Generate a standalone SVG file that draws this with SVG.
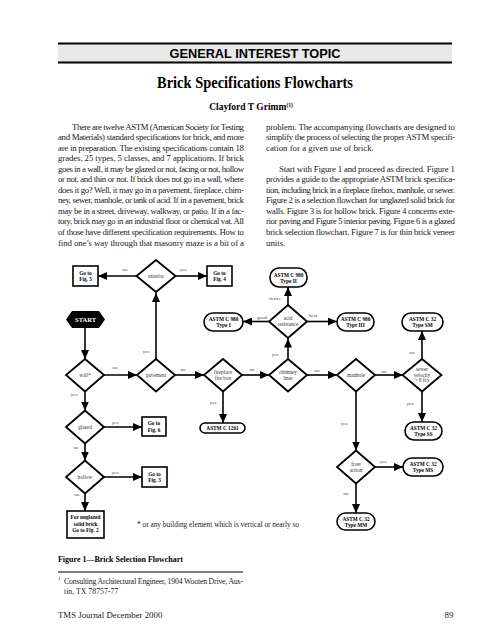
<svg xmlns="http://www.w3.org/2000/svg" width="495" height="640" viewBox="0 0 495 640">
<style>
.body{font-family:"Liberation Serif","Times New Roman",serif;font-size:8.8px;fill:#222}
.d{fill:#fff;stroke:#000;stroke-width:1.8}
.b{fill:#fff;stroke:#000;stroke-width:1.6}
.dt{font-family:"Liberation Serif",serif;font-size:5.2px;fill:#333;text-anchor:middle}
.bt{font-family:"Liberation Serif",serif;font-size:5.3px;font-weight:bold;fill:#000;text-anchor:middle}
.el{font-family:"Liberation Serif",serif;font-size:5px;fill:#444;text-anchor:middle}
.c line{stroke:#000;stroke-width:1.6;marker-end:url(#ah)}
</style>
<defs>
<marker id="ah" markerUnits="userSpaceOnUse" markerWidth="10" markerHeight="8" refX="9" refY="4" orient="auto">
<path d="M0,0 L9,4 L0,8 Z" fill="#000"/>
</marker>
</defs>
<rect width="495" height="640" fill="#fff"/>
<g id="header">
<rect x="58" y="43" width="394" height="20" fill="#e8e8e8"/>
<line x1="58" y1="43.5" x2="452" y2="43.5" stroke="#000" stroke-width="1.8"/>
<line x1="58" y1="62.5" x2="452" y2="62.5" stroke="#000" stroke-width="1.8"/>
<text x="255" y="57.5" text-anchor="middle" font-family="Liberation Sans, Arial, sans-serif" font-weight="bold" font-size="12.8" textLength="171" lengthAdjust="spacingAndGlyphs">GENERAL  INTEREST TOPIC</text>
<text x="255" y="88" text-anchor="middle" font-family="Liberation Serif, serif" font-weight="bold" font-size="16" textLength="196" lengthAdjust="spacingAndGlyphs">Brick Specifications Flowcharts</text>
<text x="251" y="110" text-anchor="middle" font-family="Liberation Serif, serif" font-weight="bold" font-size="9.5">Clayford T Grimm<tspan font-size="5.5" dy="-3.5">(1)</tspan></text>
</g>
<g id="body-left" class="body">
<text x="72" y="129.5" textLength="172" lengthAdjust="spacing">There are twelve ASTM (American Society for Testing</text>
<text x="58" y="140" textLength="186" lengthAdjust="spacing">and Materials) standard specifications for brick, and more</text>
<text x="58" y="150.6" textLength="186" lengthAdjust="spacing">are in preparation.  The existing specifications contain 18</text>
<text x="58" y="161.1" textLength="186" lengthAdjust="spacing">grades, 25 types, 5 classes, and 7 applications.  If brick</text>
<text x="58" y="171.7" textLength="186" lengthAdjust="spacing">goes in a wall, it may be glazed or not, facing or not, hollow</text>
<text x="58" y="182.2" textLength="186" lengthAdjust="spacing">or not, and thin or not. If brick does not go in a wall, where</text>
<text x="58" y="192.8" textLength="186" lengthAdjust="spacing">does it go?  Well, it may go in a pavement, fireplace, chim-</text>
<text x="58" y="203.3" textLength="186" lengthAdjust="spacing">ney, sewer, manhole, or tank of acid. If in a pavement, brick</text>
<text x="58" y="213.9" textLength="186" lengthAdjust="spacing">may be in a street, driveway, walkway, or patio. If in a fac-</text>
<text x="58" y="224.4" textLength="186" lengthAdjust="spacing">tory, brick may go in an industrial floor or chemical vat. All</text>
<text x="58" y="235" textLength="186" lengthAdjust="spacing">of those have different specification requirements.  How to</text>
<text x="58" y="245.5" textLength="186" lengthAdjust="spacing">find one’s way through that masonry maze is a bit of a</text>
</g>
<g id="body-right" class="body">
<text x="266" y="129.5" textLength="189" lengthAdjust="spacing">problem.  The accompanying flowcharts are designed to</text>
<text x="266" y="140" textLength="189" lengthAdjust="spacing">simplify the process of selecting the proper ASTM specifi-</text>
<text x="266" y="150.6">cation for a given use of brick.</text>
<text x="279" y="171.7" textLength="176" lengthAdjust="spacing">Start with Figure 1 and proceed as directed.  Figure 1</text>
<text x="266" y="182.2" textLength="189" lengthAdjust="spacing">provides a guide to the appropriate ASTM brick specifica-</text>
<text x="266" y="192.8" textLength="189" lengthAdjust="spacing">tion, including brick in a fireplace firebox, manhole, or sewer.</text>
<text x="266" y="203.3" textLength="189" lengthAdjust="spacing">Figure 2 is a selection flowchart for unglazed solid brick for</text>
<text x="266" y="213.9" textLength="189" lengthAdjust="spacing">walls.  Figure 3 is for hollow brick.  Figure 4 concerns exte-</text>
<text x="266" y="224.4" textLength="189" lengthAdjust="spacing">rior paving and Figure 5 interior paving.  Figure 6 is a glazed</text>
<text x="266" y="235" textLength="189" lengthAdjust="spacing">brick selection flowchart.  Figure 7 is for thin brick veneer</text>
<text x="266" y="245.5">units.</text>
</g>
<g id="connectors" class="c">
<line x1="137" y1="276" x2="98" y2="276"/>
<line x1="175" y1="276" x2="207" y2="276"/>
<line x1="156" y1="359" x2="156" y2="293"/>
<line x1="85" y1="328" x2="85" y2="359"/>
<line x1="269" y1="321.5" x2="243" y2="321.5"/>
<line x1="288" y1="305" x2="288" y2="287"/>
<line x1="307" y1="321.5" x2="337" y2="321.5"/>
<line x1="288" y1="358.5" x2="288" y2="338.5"/>
<line x1="104" y1="375" x2="137" y2="375"/>
<line x1="175" y1="375" x2="204" y2="375"/>
<line x1="242" y1="375" x2="269" y2="375"/>
<line x1="307" y1="375" x2="337" y2="375"/>
<line x1="375" y1="375" x2="403" y2="375"/>
<line x1="422" y1="358.5" x2="422" y2="331"/>
<line x1="422" y1="391.5" x2="422" y2="422"/>
<line x1="223" y1="391.5" x2="223" y2="423"/>
<line x1="356" y1="391.5" x2="356" y2="450.5"/>
<line x1="375" y1="467" x2="403" y2="467"/>
<line x1="356" y1="483.5" x2="356" y2="513"/>
<line x1="85" y1="391.5" x2="85" y2="410.5"/>
<line x1="104" y1="427" x2="142" y2="427"/>
<line x1="85" y1="443.5" x2="85" y2="460.5"/>
<line x1="104" y1="477" x2="142" y2="477"/>
<line x1="85" y1="493.5" x2="85" y2="511"/>
</g>
<g id="edge-labels">
<text class="el" x="125" y="271">no</text>
<text class="el" x="183" y="271">yes</text>
<text class="el" x="146" y="353">yes</text>
<text class="el" x="275" y="300">better</text>
<text class="el" x="262" y="319">good</text>
<text class="el" x="313" y="317">best</text>
<text class="el" x="275" y="356">yes</text>
<text class="el" x="412" y="354">no</text>
<text class="el" x="115" y="369">no</text>
<text class="el" x="183" y="371">no</text>
<text class="el" x="252" y="371">no</text>
<text class="el" x="317" y="372">no</text>
<text class="el" x="384" y="373">no</text>
<text class="el" x="213" y="404">yes</text>
<text class="el" x="410" y="405">yes</text>
<text class="el" x="344" y="425">yes</text>
<text class="el" x="74" y="396">yes</text>
<text class="el" x="115" y="424">yes</text>
<text class="el" x="76" y="449">no</text>
<text class="el" x="115" y="474">yes</text>
<text class="el" x="77" y="496">no</text>
<text class="el" x="383" y="463">yes</text>
<text class="el" x="346" y="495">no</text>
</g>
<g id="start">
<polygon points="66,319.5 72,311 99,311 105,319.5 99,328 72,328" fill="#000"/>
<text x="85.5" y="321.8" text-anchor="middle" font-family="Liberation Serif, serif" font-weight="bold" font-size="6.5" fill="#fff">START</text>
</g>
<g id="n-exterior"><polygon class="d" points="156,260 175.5,276 156,292 136.5,276"/><text class="dt" x="156" y="278">exterior</text></g>
<g id="n-fig5"><rect class="b" x="73" y="266" width="25" height="20"/><text class="bt" x="85.5" y="274.5">Go to</text><text class="bt" x="85.5" y="281">Fig. 5</text></g>
<g id="n-fig4"><rect class="b" x="207" y="266" width="25" height="20"/><text class="bt" x="219.5" y="274.5">Go to</text><text class="bt" x="219.5" y="281">Fig. 4</text></g>
<g id="n-c980-1"><rect class="b" x="204" y="313" width="39" height="18" rx="9"/><text class="bt" x="223.5" y="321">ASTM C 980</text><text class="bt" x="223.5" y="327">Type I</text></g>
<g id="n-c980-2"><rect class="b" x="270" y="268" width="37" height="19" rx="9"/><text class="bt" x="288.5" y="276.5">ASTM C 980</text><text class="bt" x="288.5" y="282.5">Type II</text></g>
<g id="n-acid"><polygon class="d" points="288,305 307,321.5 288,338 269,321.5"/><text class="dt" x="288" y="320">acid</text><text class="dt" x="288" y="326">resistance</text></g>
<g id="n-c980-3"><rect class="b" x="337" y="313" width="37" height="18" rx="9"/><text class="bt" x="355.5" y="321">ASTM C 980</text><text class="bt" x="355.5" y="327">Typr III</text></g>
<g id="n-sm"><rect class="b" x="402" y="313" width="41" height="18" rx="9"/><text class="bt" x="422.5" y="321">ASTM C 32</text><text class="bt" x="422.5" y="327">Type SM</text></g>
<g id="n-wall"><polygon class="d" points="85,359 104,375 85,391.5 66,375"/><text class="dt" x="85" y="377">wall*</text></g>
<g id="n-pavement"><polygon class="d" points="156,359 175,375 156,391.5 137,375"/><text class="dt" x="156" y="377">pavement</text></g>
<g id="n-fireplace"><polygon class="d" points="223,359 242,375 223,391.5 204,375"/><text class="dt" x="223" y="373.5">fireplace</text><text class="dt" x="223" y="379.5">fire box</text></g>
<g id="n-chimney"><polygon class="d" points="288,359 307,375 288,391.5 269,375"/><text class="dt" x="288" y="373.5">chimney</text><text class="dt" x="288" y="379.5">liner</text></g>
<g id="n-manhole"><polygon class="d" points="356,359 375,375 356,391.5 337,375"/><text class="dt" x="356" y="377">manhole</text></g>
<g id="n-sewer"><polygon class="d" points="422,359 441.5,375 422,391.5 402.5,375"/><text class="dt" x="422" y="371">sewer</text><text class="dt" x="422" y="376.5">velocity</text><text class="dt" x="422" y="382">&gt; 8 ft/s</text></g>
<g id="n-c1261"><rect class="b" x="200" y="423" width="45" height="10" rx="5"/><text class="bt" x="222.5" y="430">ASTM C  1261</text></g>
<g id="n-ss"><rect class="b" x="405" y="422" width="37" height="18" rx="9"/><text class="bt" x="423.5" y="430">ASTM C 32</text><text class="bt" x="423.5" y="436">Type SS</text></g>
<g id="n-glazed"><polygon class="d" points="85,410.5 104,427 85,443.5 66,427"/><text class="dt" x="85" y="429">glazed</text></g>
<g id="n-fig6"><rect class="b" x="142" y="417" width="24" height="19"/><text class="bt" x="154" y="425">Go to</text><text class="bt" x="154" y="431.5">Fig. 6</text></g>
<g id="n-hollow"><polygon class="d" points="85,460.5 104,477 85,493.5 66,477"/><text class="dt" x="85" y="479">hollow</text></g>
<g id="n-fig3"><rect class="b" x="142" y="467" width="25" height="20"/><text class="bt" x="154.5" y="475.5">Go to</text><text class="bt" x="154.5" y="482">Fig. 3</text></g>
<g id="n-frost"><polygon class="d" points="356,450.5 375,467 356,483.5 337,467"/><text class="dt" x="356" y="465.5">frost</text><text class="dt" x="356" y="471.5">action</text></g>
<g id="n-ms"><rect class="b" x="403" y="458" width="40" height="18" rx="9"/><text class="bt" x="423" y="466">ASTM C 32</text><text class="bt" x="423" y="472">Type MS</text></g>
<g id="n-mm"><rect class="b" x="337" y="513" width="38" height="17" rx="8.5"/><text class="bt" x="356" y="520.5">ASTM C 32</text><text class="bt" x="356" y="526.5">Type MM</text></g>
<g id="n-unglazed"><rect class="b" x="67" y="511" width="37" height="27"/><text class="bt" x="85.5" y="519">For unglazed</text><text class="bt" x="85.5" y="525.5">solid brick</text><text class="bt" x="85.5" y="532">Go to Fig. 2</text></g>
<text x="137" y="526.5" font-family="Liberation Serif, serif" font-size="7.3" fill="#222" textLength="162" lengthAdjust="spacingAndGlyphs">* or any building element which is vertical or nearly so</text>
<g id="footer">
<text x="58" y="562" font-family="Liberation Serif, serif" font-weight="bold" font-size="8.6" textLength="125" lengthAdjust="spacingAndGlyphs">Figure 1—Brick Selection Flowchart</text>
<line x1="58" y1="572" x2="243" y2="572" stroke="#000" stroke-width="1"/>
<text x="58" y="580" font-family="Liberation Serif, serif" font-size="5">1</text>
<text x="64" y="584" font-family="Liberation Serif, serif" font-size="7.8" fill="#222" textLength="179" lengthAdjust="spacing">Consulting Architectural Engineer, 1904 Wooten Drive, Aus-</text>
<text x="64" y="594" font-family="Liberation Serif, serif" font-size="7.8" fill="#222">tin, TX 78757-77</text>
<text x="58" y="618" font-family="Liberation Serif, serif" font-size="8.8" fill="#222">TMS Journal December 2000</text>
<text x="449" y="618" text-anchor="middle" font-family="Liberation Serif, serif" font-size="8.8" fill="#222">89</text>
</g>
</svg>
